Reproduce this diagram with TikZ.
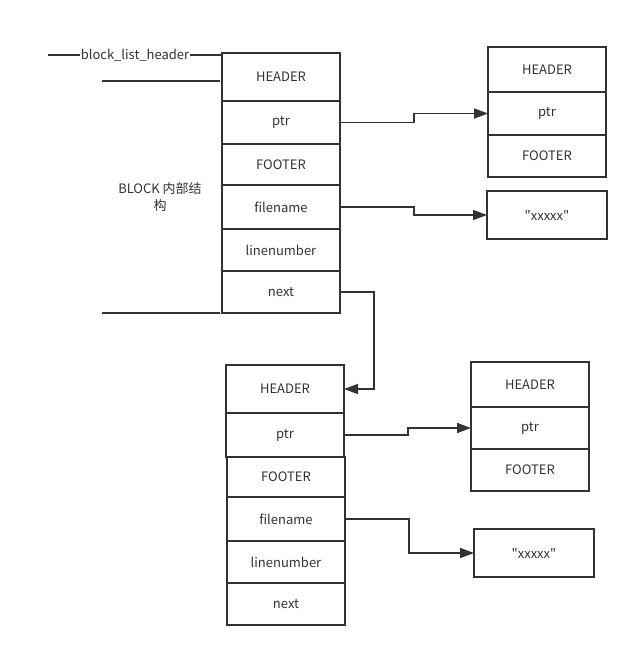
\documentclass[tikz,border=0pt]{standalone}
\usepackage{fontspec}
\setmainfont{Noto Sans CJK SC}[Ligatures=TeXOff]
\usetikzlibrary{positioning}
\usetikzlibrary{arrows.meta}
\definecolor{inkgray}{HTML}{333333}

\begin{document}
\begin{tikzpicture}[x=1pt, y=-1pt, node distance = 0pt]
    \tikzset{
    cell/.style=
    {
        draw=inkgray,
        line width=1.6pt,
        minimum width=118pt,
        inner sep=0pt,
        outer sep=0pt,
        text=inkgray,
        font=\fontsize{13}{16}\selectfont
    },
    link/.style=
    {
        draw=inkgray,
        line width=1.6pt,
        -{Triangle[length=14pt,width=10pt]}
    }
}
  \useasboundingbox[fill=white] (0,0) rectangle (639,657);

  % first block
  \node[cell, minimum height=48pt, anchor=north west] (hdrA) at (222,53) {HEADER};
  \node[cell, minimum height=43pt, below=of hdrA] (ptrA) {ptr};
  \node[cell, minimum height=41pt, below=of ptrA] (ftrA) {FOOTER};
  \node[cell, minimum height=44pt, below=of ftrA] (fnA) {filename};
  \node[cell, minimum height=42pt, below=of fnA] (lnA) {linenumber};
  \node[cell, minimum height=42pt, below=of lnA] (nextA) {next};

  % what ptr points to
  \node[cell, minimum height=45pt, anchor=north west] (hdrB) at (488,47) {HEADER};
  \node[cell, minimum height=43pt, below=of hdrB] (ptrB) {ptr};
  \node[cell, minimum height=42pt, below=of ptrB] (ftrB) {FOOTER};
  \node[cell, minimum height=48pt, minimum width=120pt, anchor=north west] (strA) at (487,191) {"xxxxx"};

  % second block
  \node[cell, minimum height=48pt, anchor=north west] (hdrC) at (226,365) {HEADER};
  \node[cell, minimum height=44pt, below=of hdrC] (ptrC) {ptr};
  \node[cell, minimum height=40pt, below=of ptrC, xshift=1pt] (ftrC) {FOOTER};
  \node[cell, minimum height=44pt, below=of ftrC] (fnC) {filename};
  \node[cell, minimum height=42pt, below=of fnC] (lnC) {linenumber};
  \node[cell, minimum height=42pt, below=of lnC] (nextC) {next};

  \node[cell, minimum height=45pt, anchor=north west] (hdrD) at (471,362) {HEADER};
  \node[cell, minimum height=42pt, below=of hdrD] (ptrD) {ptr};
  \node[cell, minimum height=42pt, below=of ptrD] (ftrD) {FOOTER};
  \node[cell, minimum height=48pt, minimum width=120pt, anchor=north west] (strC) at (474,529) {"xxxxx"};

  % labels on the left
  \draw[draw=inkgray, line width=1.6pt] (48,55) -- (222,55)
    node[midway, fill=white, inner sep=1pt, text=inkgray, font=\fontsize{13}{16}\selectfont] (listhdr) {block\_list\_header};
  \draw[draw=inkgray, line width=1.6pt] (102,81) -- (220,81);
  \draw[draw=inkgray, line width=1.6pt] (102,313) -- (220,313);
  \node[align=center, text=inkgray, font=\fontsize{13}{17}\selectfont] (blocklbl) at (160,197) {BLOCK 内部结\\构};

  \draw[link] (ptrA.east) -- ++(74,0) |- (ptrB.west);
  \draw[link] (fnA.east) -- ++(74,0) |- (strA.west);
  \draw[link] (nextA.east) -- ++(34,0) |- (hdrC.east);
  \draw[link] (ptrC.east) -- ++(64,0) |- (ptrD.west);
  \draw[link] (fnC.east) -- ++(64,0) |- (strC.west);

\end{tikzpicture}
\end{document}
